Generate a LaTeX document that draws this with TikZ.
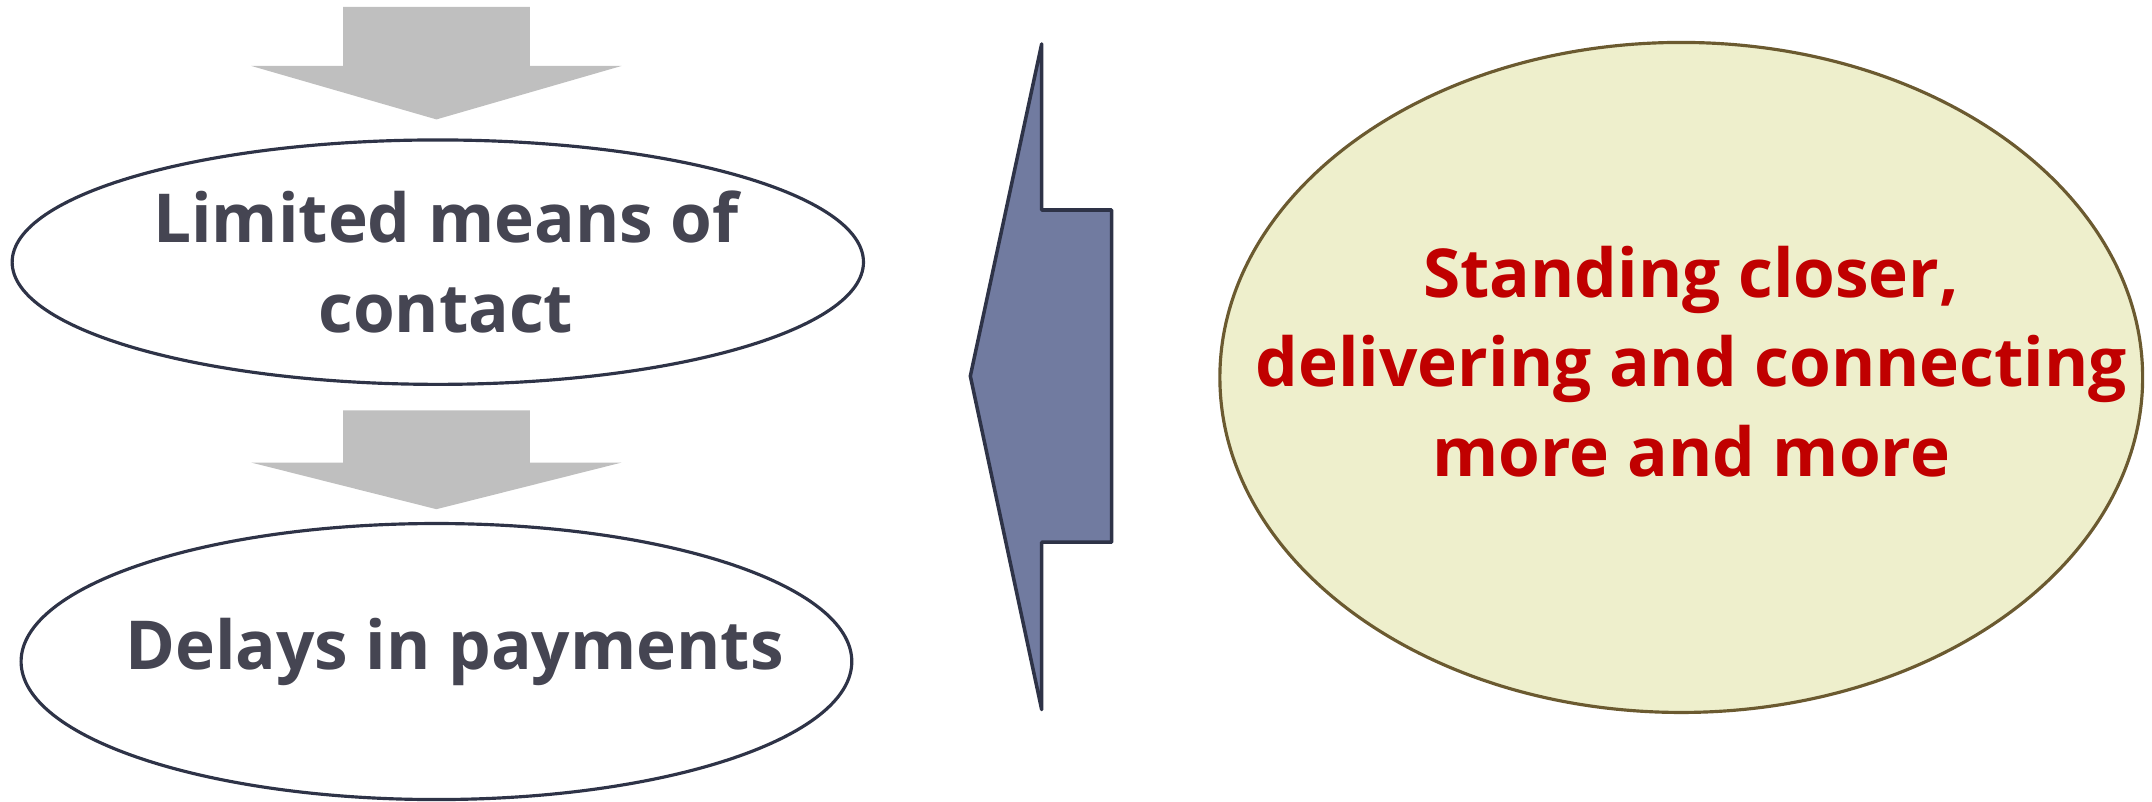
\documentclass[tikz,border=0pt]{standalone}
\usepackage{fontspec}
\setmainfont{Open Sans}
\usepackage{tikz}
\usetikzlibrary{shapes.geometric}
\definecolor{flowgray}{HTML}{BFBFBF}
\definecolor{lineink}{HTML}{2E3347}
\definecolor{textink}{HTML}{454552}
\definecolor{shiftblue}{HTML}{717BA0}
\definecolor{goalfill}{HTML}{EEEFCC}
\definecolor{goalline}{HTML}{6B5A30}
\definecolor{goalred}{HTML}{C00000}

\begin{document}
\begin{tikzpicture}[x=0.013724cm, y=-0.013724cm,
  problem/.style={ellipse, draw=lineink, line width=0.9pt, fill=white,
    inner sep=0pt},
  goal/.style={ellipse, draw=goalline, line width=0.9pt, fill=goalfill,
    inner sep=0pt},
  label/.style={align=center, inner sep=0pt,
    font=\fontsize{19.2}{25.4}\selectfont\bfseries}]

\useasboundingbox (0,0) rectangle (1568,584);

% Downward flow arrows
\fill[flowgray] (250,5) -- (386,5) -- (386,48) -- (453,48) -- (318,87)
  -- (183,48) -- (250,48) -- cycle;
\fill[flowgray] (250,299) -- (386,299) -- (386,337) -- (453,337) -- (318,371)
  -- (183,337) -- (250,337) -- cycle;

% Current problems
\node[problem, minimum width=8.509cm, minimum height=2.443cm] (contact)
  at (319,191) {};
\node[label, text=textink] (contacttext)
  at ([xshift=0.08cm]contact.center) {Limited means of\\contact};
\node[problem, minimum width=8.303cm, minimum height=2.759cm] (payments)
  at (318,482) {};
\node[label, text=textink] (paytext)
  at ([xshift=0.18cm, yshift=0.1cm]payments.center) {Delays in payments};

% Shift arrow pointing back to the left
\draw[lineink, fill=shiftblue, line width=1pt, line join=round]
  (759,32) -- (759,153) -- (810,153) -- (810,395) -- (759,395) -- (759,517)
  -- (707,274) -- cycle;

% Target state
\node[goal, minimum width=9.223cm, minimum height=6.697cm] (closer)
  at (1225,275) {};
\node[label, text=goalred] (closertext)
  at ([xshift=0.1cm, yshift=0.16cm]closer.center)
  {Standing closer,\\delivering and connecting\\more and more};

\end{tikzpicture}
\end{document}
